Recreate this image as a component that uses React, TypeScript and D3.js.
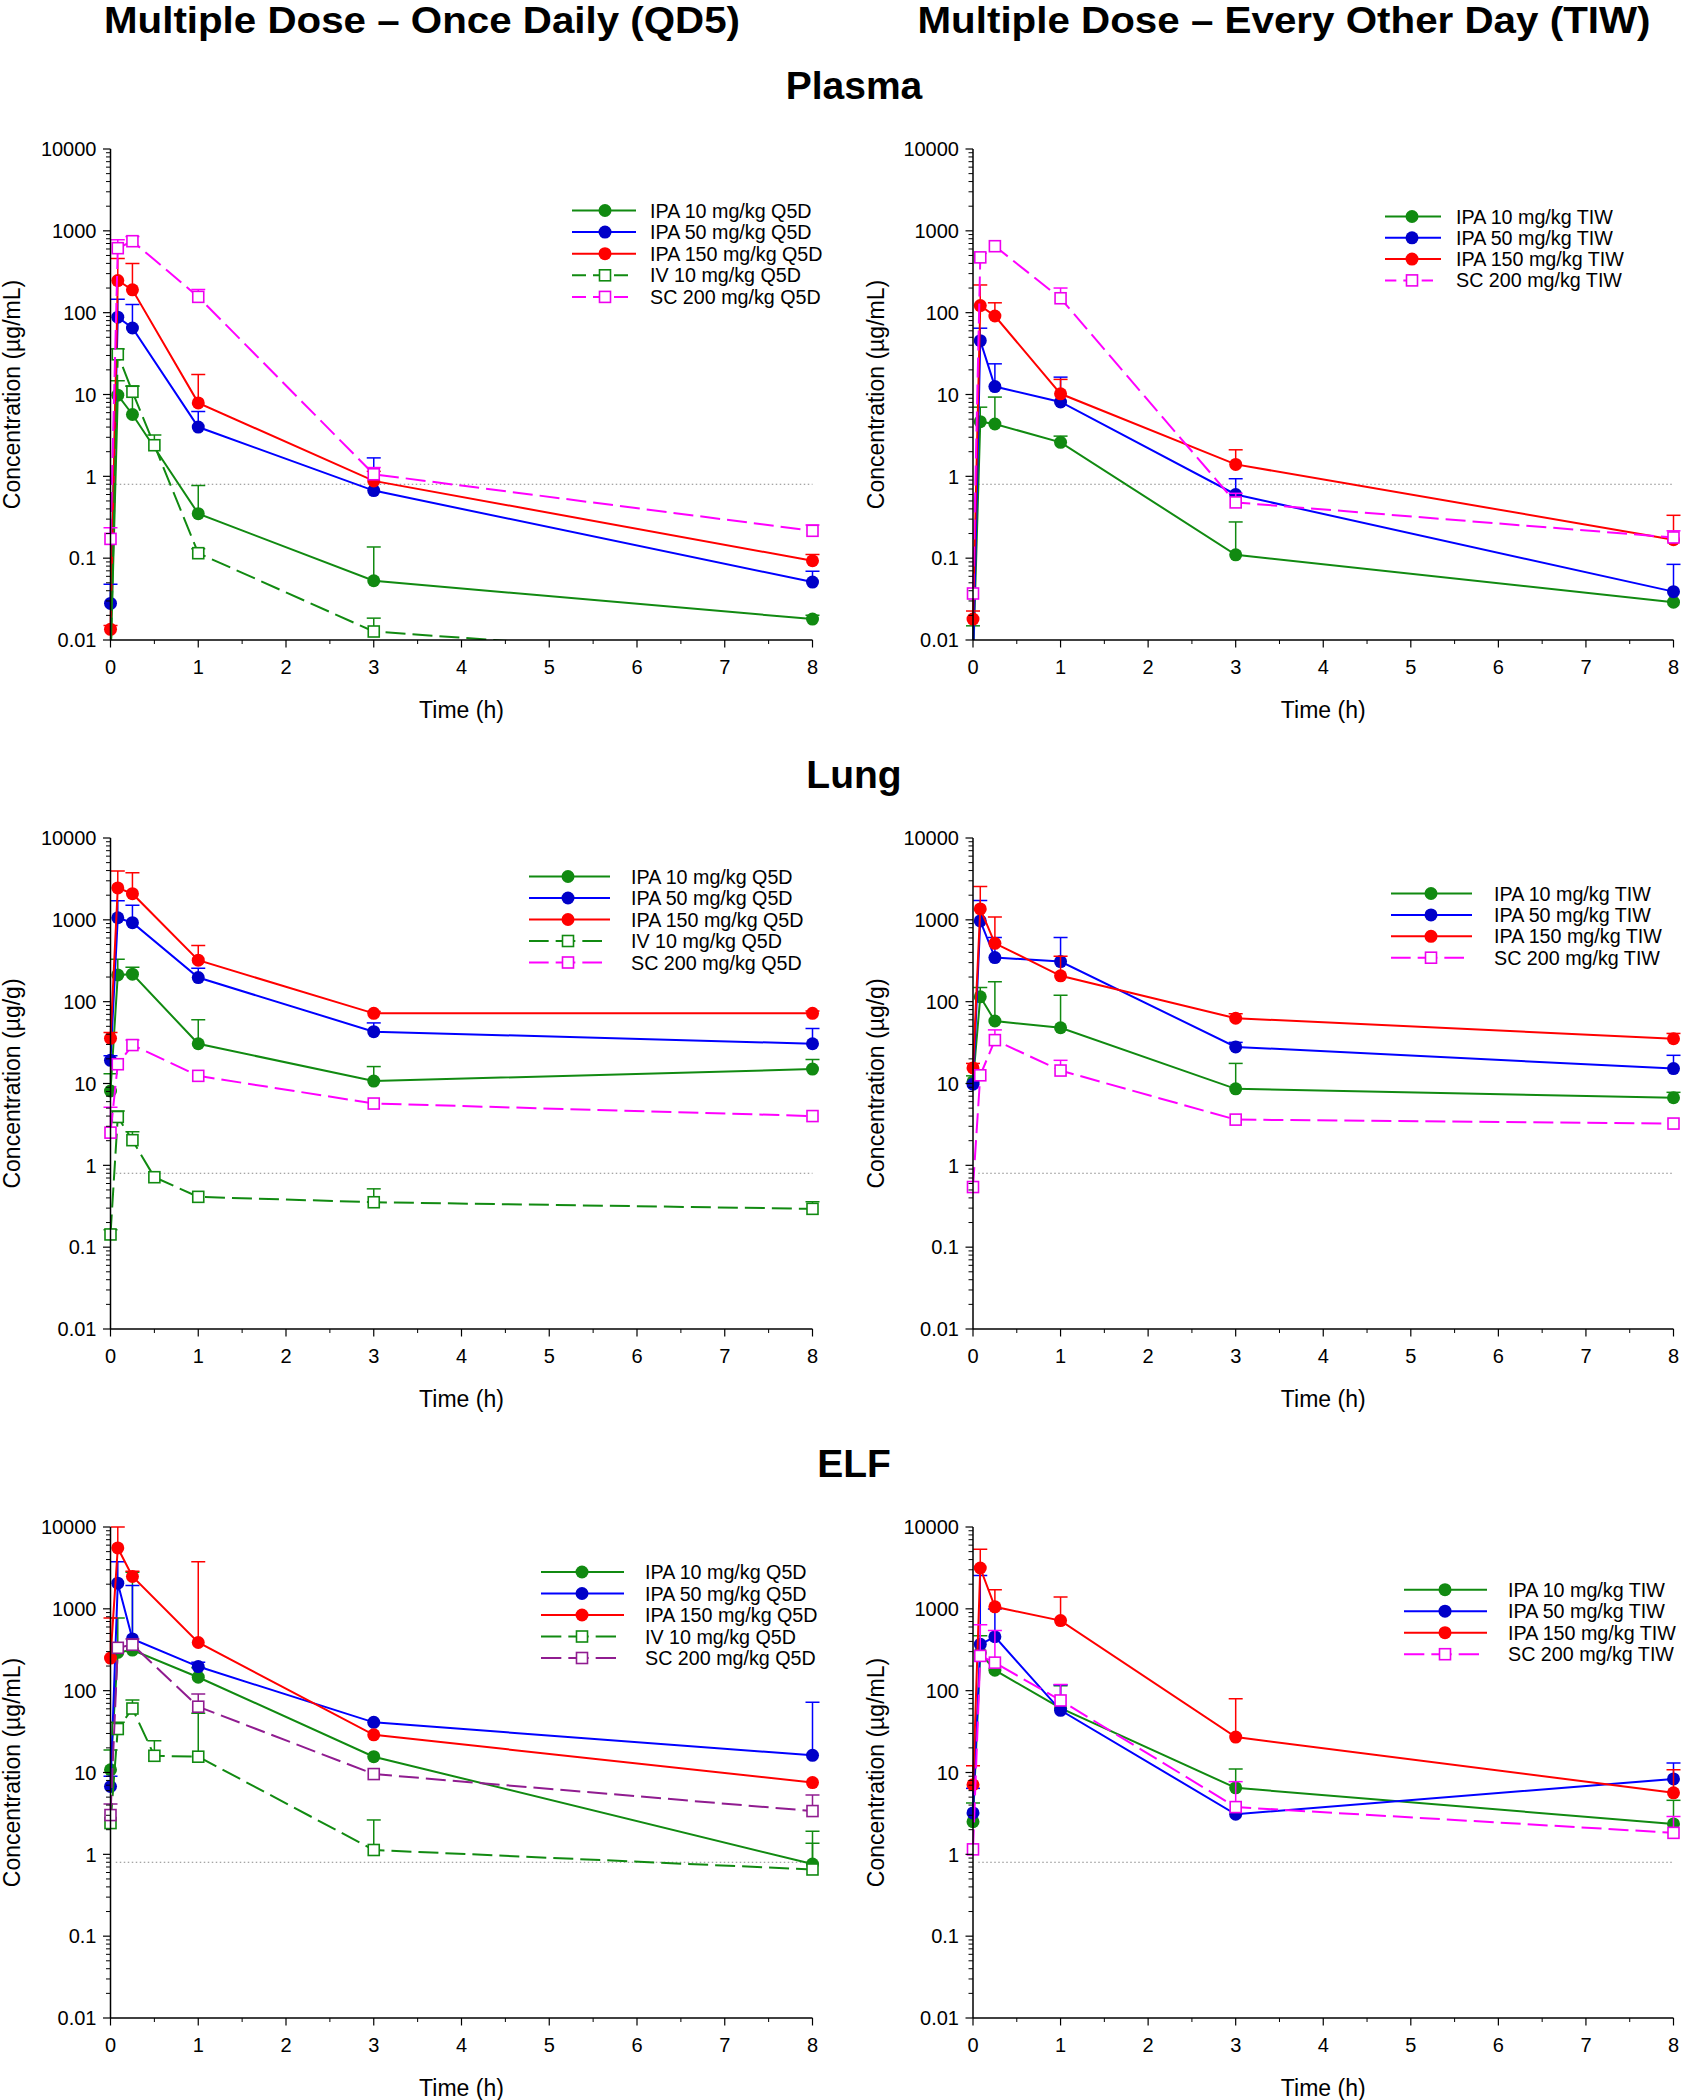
import React from "react";
import * as d3 from "d3";

const W = 1682;
const H = 2100;
const FONT = "'Liberation Sans', Arial, Helvetica, sans-serif";

// ---- shared axes / labels ----
const timesStd = [0, 0.083, 0.25, 1, 3, 8];
const timesIV = [0, 0.083, 0.25, 0.5, 1, 3, 8];
const xTicks = [0, 1, 2, 3, 4, 5, 6, 7, 8];
const xMinorTicks = [0.5, 1.5, 2.5, 3.5, 4.5, 5.5, 6.5, 7.5];
const yTicks = [0.01, 0.1, 1, 10, 100, 1000, 10000];
const yTickLabels = ["0.01", "0.1", "1", "10", "100", "1000", "10000"];
const lloq = 0.8;

const colTitles = ["Multiple Dose \u2013 Once Daily (QD5)", "Multiple Dose \u2013 Every Other Day (TIW)"];
const rowTitles = ["Plasma", "Lung", "ELF"];
const yTitles = ["Concentration (\u00b5g/mL)", "Concentration (\u00b5g/g)", "Concentration (\u00b5g/mL)"];

// ---- Plasma, QD5 (mean, mean+SD) ----
const plQ_ipa10 = [0.005, 9.8, 5.7, 0.35, 0.053, 0.018];
const plQ_ipa10Up = [null, 14.7, 12.7, 0.77, 0.137, 0.02];
const plQ_ipa50 = [0.028, 88, 65, 4.0, 0.67, 0.051];
const plQ_ipa50Up = [0.048, 146, 126, 6.2, 1.68, 0.069];
const plQ_ipa150 = [0.0135, 247, 190, 7.9, 0.88, 0.093];
const plQ_ipa150Up = [0.015, 460, 400, 17.5, 1.15, 0.111];
const plQ_iv10 = [0.005, 31, 10.8, 2.4, 0.115, 0.0127, 0.0053];
const plQ_iv10Up = [null, 36, 12.6, 3.2, 0.13, 0.0185, null];
const plQ_sc200 = [0.172, 614, 747, 156, 1.06, 0.216];
const plQ_sc200Up = [0.236, 776, 850, 192, 1.28, 0.254];

// ---- Plasma, TIW ----
const plT_ipa10 = [0.005, 4.65, 4.36, 2.6, 0.11, 0.029];
const plT_ipa10Up = [0.0149, 7.0, 9.3, 3.1, 0.277, null];
const plT_ipa50 = [0.005, 45.5, 12.5, 8.1, 0.6, 0.039];
const plT_ipa50Up = [null, 64.6, 23.7, 16.3, 0.935, 0.084];
const plT_ipa150 = [0.018, 122, 91, 10.2, 1.4, 0.168];
const plT_ipa150Up = [0.0226, 218, 132, 15.3, 2.11, 0.334];
const plT_sc200 = [0.037, 474, 649, 150, 0.48, 0.179];
const plT_sc200Up = [null, null, null, 200, 0.62, 0.216];

// ---- Lung, QD5 ----
const luQ_ipa10 = [8.1, 212, 217, 30.6, 10.7, 15.0];
const luQ_ipa10Up = [13.2, 329, 264, 60, 16.1, 19.7];
const luQ_ipa50 = [19.2, 1060, 922, 197, 43, 30.6];
const luQ_ipa50Up = [21.8, 1706, 1504, 256, 55, 47];
const luQ_ipa150 = [35.6, 2455, 2085, 321, 72, 72];
const luQ_ipa150Up = [42, 3955, 3765, 486, 76, 77];
const luQ_iv10 = [0.143, 3.9, 2.03, 0.716, 0.412, 0.354, 0.294];
const luQ_iv10Up = [0.163, 4.6, 2.58, null, null, 0.516, 0.359];
const luQ_sc200 = [2.51, 17.2, 29.5, 12.4, 5.69, 4.0];
const luQ_sc200Up = [5.14, null, 34, null, null, null];

// ---- Lung, TIW ----
const luT_ipa10 = [10.5, 114.5, 58, 48, 8.6, 6.7];
const luT_ipa10Up = [12.4, 149, 175, 120, 17.6, 7.8];
const luT_ipa50 = [9.8, 969, 346, 309, 28, 15.2];
const luT_ipa50Up = [null, 1725, 609, 609, 31.8, 22.1];
const luT_ipa150 = [15.5, 1360, 517, 207, 62.7, 35.2];
const luT_ipa150Up = [17.6, 2549, 1085, 359, 71, 40.9];
const luT_sc200 = [0.543, 12.6, 33.9, 14.4, 3.62, 3.24];
const luT_sc200Up = [null, null, 45.2, 19.2, null, null];

// ---- ELF, QD5 ----
const elQ_ipa10 = [10.8, 294, 313, 146, 15.6, 0.76];
const elQ_ipa10Up = [18.8, 773, 2800, 190, null, 1.92];
const elQ_ipa50 = [6.74, 2057, 429, 197, 41, 16.2];
const elQ_ipa50Up = [8.99, 3755, 1933, 223, null, 72];
const elQ_ipa150 = [250, 5546, 2483, 388, 28.9, 7.54];
const elQ_ipa150Up = [773, 10000, 2885, 3755, null, null];
const elQ_iv10 = [2.41, 34, 60.5, 16, 15.6, 1.13, 0.653];
const elQ_iv10Up = [null, 41, 76.9, 24.5, 53, 2.63, 1.37];
const elQ_sc200 = [3.02, 334, 364, 63.7, 9.57, 3.38];
const elQ_sc200Up = [4.13, null, 429, 91, null, 5.31];

// ---- ELF, TIW ----
const elT_ipa10 = [2.5, 290, 178, 61, 6.49, 2.35];
const elT_ipa10Up = [4.24, 468, null, 115, 11, 4.57];
const elT_ipa50 = [3.21, 369, 456, 57.5, 3.09, 8.34];
const elT_ipa50Up = [6.4, 2547, 994, 118, null, 13.1];
const elT_ipa150 = [7.08, 3155, 1059, 718, 27.1, 5.65];
const elT_ipa150Up = [12.1, 5345, 1706, 1395, 79.8, 10.8];
const elT_sc200 = [1.15, 266, 220, 75.9, 3.78, 1.83];
const elT_sc200Up = [null, 641, 544, 119, 7.73, 2.9];

// series styles
const styles = {
  ipa10: { line: "#118a11", mark: "#118a11", dash: null, shape: "circle" },
  ipa50: { line: "#0000ff", mark: "#0000c8", dash: null, shape: "circle" },
  ipa150: { line: "#ff0000", mark: "#ff0000", dash: null, shape: "circle" },
  iv10: { line: "#118a11", mark: "#118a11", dash: "20,7", shape: "square" },
  sc200: { line: "#ff00ff", mark: "#ee00ee", dash: "20,7", shape: "square" },
  sc200p: { line: "#901c90", mark: "#901c90", dash: "20,7", shape: "square" },
};

const mk = (key, label, times, mean, up) => ({ key, label, times, mean, up });

const cols = [
  { x0: 110.5, x1: 812.5, yTitleX: 20 },
  { x0: 973, x1: 1673.5, yTitleX: 884 },
];
const rows = [
  { top: 149, bottom: 640 },
  { top: 838, bottom: 1329 },
  { top: 1527, bottom: 2018 },
];

const panels = [
  {
    row: 0, col: 0,
    legend: { x0: 572, x1: 636, xm: 605, xt: 650, y0: 210.5, dy: 21.6 },
    series: [
      mk("ipa10", "IPA 10 mg/kg Q5D", timesStd, plQ_ipa10, plQ_ipa10Up),
      mk("ipa50", "IPA 50 mg/kg Q5D", timesStd, plQ_ipa50, plQ_ipa50Up),
      mk("ipa150", "IPA 150 mg/kg Q5D", timesStd, plQ_ipa150, plQ_ipa150Up),
      mk("iv10", "IV 10 mg/kg Q5D", timesIV, plQ_iv10, plQ_iv10Up),
      mk("sc200", "SC 200 mg/kg Q5D", timesStd, plQ_sc200, plQ_sc200Up),
    ],
  },
  {
    row: 0, col: 1,
    legend: { x0: 1385, x1: 1441, xm: 1412, xt: 1456, y0: 216.5, dy: 21.3 },
    series: [
      mk("ipa10", "IPA 10 mg/kg TIW", timesStd, plT_ipa10, plT_ipa10Up),
      mk("ipa50", "IPA 50 mg/kg TIW", timesStd, plT_ipa50, plT_ipa50Up),
      mk("ipa150", "IPA 150 mg/kg TIW", timesStd, plT_ipa150, plT_ipa150Up),
      mk("sc200", "SC 200 mg/kg TIW", timesStd, plT_sc200, plT_sc200Up),
    ],
  },
  {
    row: 1, col: 0,
    legend: { x0: 529, x1: 610, xm: 568, xt: 631, y0: 876.5, dy: 21.5 },
    series: [
      mk("ipa10", "IPA 10 mg/kg Q5D", timesStd, luQ_ipa10, luQ_ipa10Up),
      mk("ipa50", "IPA 50 mg/kg Q5D", timesStd, luQ_ipa50, luQ_ipa50Up),
      mk("ipa150", "IPA 150 mg/kg Q5D", timesStd, luQ_ipa150, luQ_ipa150Up),
      mk("iv10", "IV 10 mg/kg Q5D", timesIV, luQ_iv10, luQ_iv10Up),
      mk("sc200", "SC 200 mg/kg Q5D", timesStd, luQ_sc200, luQ_sc200Up),
    ],
  },
  {
    row: 1, col: 1,
    legend: { x0: 1391, x1: 1472, xm: 1431, xt: 1494, y0: 893.5, dy: 21.4 },
    series: [
      mk("ipa10", "IPA 10 mg/kg TIW", timesStd, luT_ipa10, luT_ipa10Up),
      mk("ipa50", "IPA 50 mg/kg TIW", timesStd, luT_ipa50, luT_ipa50Up),
      mk("ipa150", "IPA 150 mg/kg TIW", timesStd, luT_ipa150, luT_ipa150Up),
      mk("sc200", "SC 200 mg/kg TIW", timesStd, luT_sc200, luT_sc200Up),
    ],
  },
  {
    row: 2, col: 0,
    legend: { x0: 541, x1: 624, xm: 582, xt: 645, y0: 1572, dy: 21.5 },
    series: [
      mk("ipa10", "IPA 10 mg/kg Q5D", timesStd, elQ_ipa10, elQ_ipa10Up),
      mk("ipa50", "IPA 50 mg/kg Q5D", timesStd, elQ_ipa50, elQ_ipa50Up),
      mk("ipa150", "IPA 150 mg/kg Q5D", timesStd, elQ_ipa150, elQ_ipa150Up),
      mk("iv10", "IV 10 mg/kg Q5D", timesIV, elQ_iv10, elQ_iv10Up),
      mk("sc200p", "SC 200 mg/kg Q5D", timesStd, elQ_sc200, elQ_sc200Up),
    ],
  },
  {
    row: 2, col: 1,
    legend: { x0: 1404, x1: 1487, xm: 1445, xt: 1508, y0: 1589.7, dy: 21.5 },
    series: [
      mk("ipa10", "IPA 10 mg/kg TIW", timesStd, elT_ipa10, elT_ipa10Up),
      mk("ipa50", "IPA 50 mg/kg TIW", timesStd, elT_ipa50, elT_ipa50Up),
      mk("ipa150", "IPA 150 mg/kg TIW", timesStd, elT_ipa150, elT_ipa150Up),
      mk("sc200", "SC 200 mg/kg TIW", timesStd, elT_sc200, elT_sc200Up),
    ],
  },
];

const Marker = ({ shape, x, y, color }) =>
  shape === "circle" ? (
    <circle cx={x} cy={y} r={6.5} fill={color} />
  ) : (
    <rect x={x - 5.5} y={y - 5.5} width={11} height={11} fill="#fff" stroke={color} strokeWidth={1.6} />
  );

function Panel({ p, idx }) {
  const c = cols[p.col];
  const r = rows[p.row];
  const x = d3.scaleLinear().domain([0, 8]).range([c.x0, c.x1]);
  const y = d3.scaleLog().domain([0.01, 10000]).range([r.bottom, r.top]);
  const minor = [];
  for (let e = -2; e < 4; e++) for (let k = 2; k <= 9; k++) minor.push(k * Math.pow(10, e));
  const clipId = `clip${idx}`;
  const line = d3.line().x((d) => x(d[0])).y((d) => y(d[1]));

  return (
    <g>
      <defs>
        <clipPath id={clipId}>
          <rect x={c.x0 - 12} y={r.top - 2} width={c.x1 - c.x0 + 24} height={r.bottom - r.top + 2} />
        </clipPath>
      </defs>
      {/* LLOQ */}
      <line x1={x(0.06)} x2={x(8)} y1={y(lloq)} y2={y(lloq)} stroke="#888" strokeWidth={1} strokeDasharray="1.5,2.5" />

      <g clipPath={`url(#${clipId})`}>
        {p.series.map((s) => {
          const st = styles[s.key];
          const pts = s.times.map((t, i) => [t, s.mean[i]]);
          return (
            <g key={s.key}>
              <path d={line(pts)} fill="none" stroke={st.line} strokeWidth={2} strokeDasharray={st.dash || undefined} />
              {s.times.map((t, i) =>
                s.up[i] == null ? null : (
                  <g key={i} stroke={st.line} strokeWidth={1.5}>
                    <line x1={x(t)} x2={x(t)} y1={y(s.mean[i])} y2={y(s.up[i])} />
                    <line x1={x(t) - 7} x2={x(t) + 7} y1={y(s.up[i])} y2={y(s.up[i])} />
                  </g>
                )
              )}
              {pts.map((d, i) => (
                <Marker key={i} shape={st.shape} x={x(d[0])} y={y(d[1])} color={st.mark} />
              ))}
            </g>
          );
        })}
      </g>

      {/* y axis */}
      <line x1={c.x0} x2={c.x0} y1={r.top} y2={r.bottom} stroke="#000" strokeWidth={1.5} />
      {yTicks.map((v, i) => (
        <g key={v}>
          <line x1={c.x0 - 7.5} x2={c.x0} y1={y(v)} y2={y(v)} stroke="#000" strokeWidth={1.2} />
          <text x={c.x0 - 14} y={y(v)} dy="0.36em" textAnchor="end" fontSize={20} fontFamily={FONT}>
            {yTickLabels[i]}
          </text>
        </g>
      ))}
      {minor.map((v) => (
        <line key={v} x1={c.x0 - 4.5} x2={c.x0} y1={y(v)} y2={y(v)} stroke="#000" strokeWidth={1} />
      ))}
      {/* x axis */}
      <line x1={c.x0} x2={c.x1} y1={r.bottom} y2={r.bottom} stroke="#000" strokeWidth={1.5} />
      {xTicks.map((v) => (
        <g key={v}>
          <line x1={x(v)} x2={x(v)} y1={r.bottom} y2={r.bottom + 7.5} stroke="#000" strokeWidth={1.2} />
          <text x={x(v)} y={r.bottom + 27} dy="0.36em" textAnchor="middle" fontSize={20} fontFamily={FONT}>
            {v}
          </text>
        </g>
      ))}
      {xMinorTicks.map((v) => (
        <line key={v} x1={x(v)} x2={x(v)} y1={r.bottom} y2={r.bottom + 4} stroke="#000" strokeWidth={1} />
      ))}
      <text x={(c.x0 + c.x1) / 2} y={r.bottom + 78} textAnchor="middle" fontSize={23} fontFamily={FONT}>
        Time (h)
      </text>
      <text
        transform={`translate(${c.yTitleX},${(r.top + r.bottom) / 2}) rotate(-90)`}
        textAnchor="middle"
        fontSize={23}
        fontFamily={FONT}
      >
        {yTitles[p.row]}
      </text>

      {/* legend */}
      {p.series.map((s, i) => {
        const st = styles[s.key];
        const ly = p.legend.y0 + i * p.legend.dy;
        const span = p.legend.x1 - p.legend.x0;
        const dashLen = (span - 22) / 3;
        const lx1 = st.dash ? p.legend.x0 + 3 * dashLen + 14 : p.legend.x1;
        return (
          <g key={s.key}>
            <line x1={p.legend.x0} x2={lx1} y1={ly} y2={ly} stroke={st.line} strokeWidth={2}
              strokeDasharray={st.dash ? `${dashLen},7` : undefined} />
            <Marker shape={st.shape} x={p.legend.xm} y={ly} color={st.mark} />
            <text x={p.legend.xt} y={ly} dy="0.36em" fontSize={19.7} fontFamily={FONT}>
              {s.label}
            </text>
          </g>
        );
      })}
    </g>
  );
}

export default function App() {
  return (
    <svg
      width={W}
      height={H}
      viewBox={`0 0 ${W} ${H}`}
      style={{ position: "absolute", left: 0, top: 0, display: "block", background: "#fff" }}
    >
      <rect width={W} height={H} fill="#fff" />
      <text x={422} y={33} textAnchor="middle" fontSize={37} fontWeight="bold" fontFamily={FONT}
        textLength={636} lengthAdjust="spacingAndGlyphs">
        {colTitles[0]}
      </text>
      <text x={1284} y={33} textAnchor="middle" fontSize={37} fontWeight="bold" fontFamily={FONT}
        textLength={733} lengthAdjust="spacingAndGlyphs">
        {colTitles[1]}
      </text>
      {rowTitles.map((t, i) => (
        <text key={t} x={854} y={99 + i * 689} textAnchor="middle" fontSize={39} fontWeight="bold" fontFamily={FONT}>
          {t}
        </text>
      ))}
      {panels.map((p, i) => (
        <Panel key={i} p={p} idx={i} />
      ))}
    </svg>
  );
}
